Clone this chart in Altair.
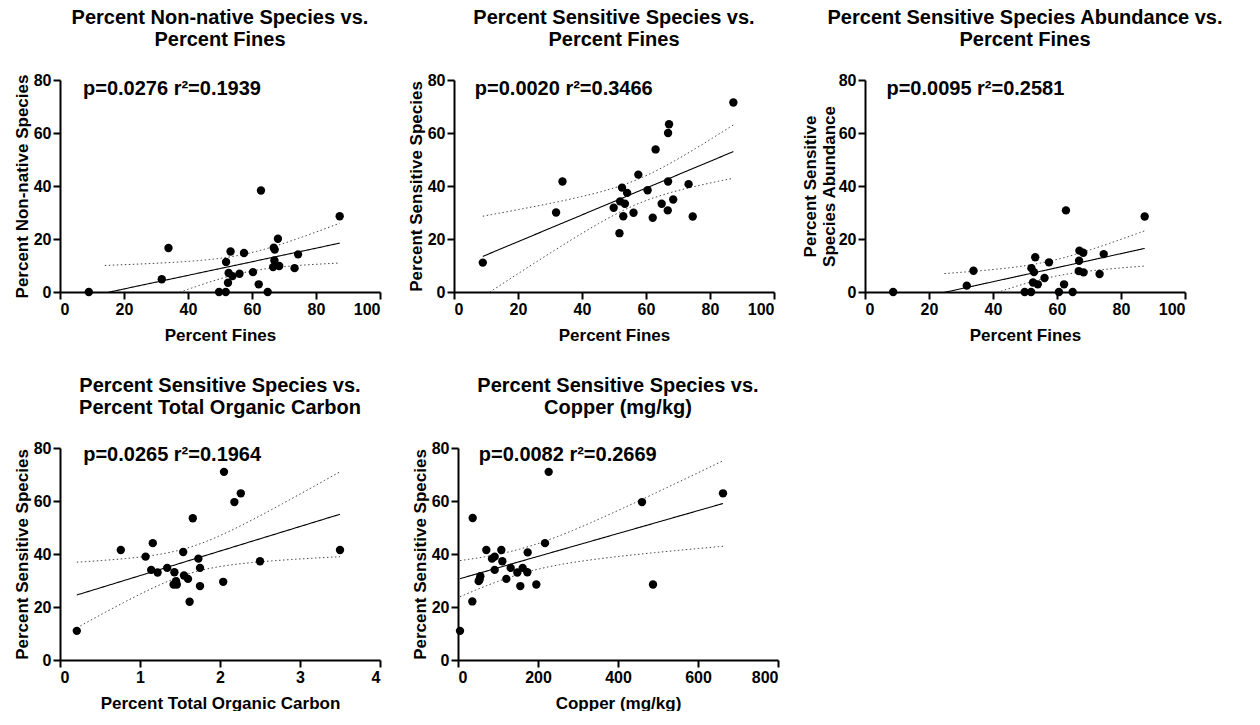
import altair as alt
import numpy as np
import pandas as pd

FONT = "Liberation Sans"

# ---------------- data ----------------
# Panel 1: Percent Non-native Species vs. Percent Fines
p1_fines = [9.0, 31.8, 33.9, 49.7, 51.8, 51.9, 53.3, 52.7, 52.5, 53.9, 56.1, 57.5, 60.3,
            62.1, 62.8, 64.9, 66.8, 67.1, 67.0, 66.6, 68.1, 68.5, 73.3, 74.4, 87.4]
p1_nonnative = [0.0, 4.8, 16.6, 0.0, 0.0, 11.3, 15.3, 7.2, 3.5, 6.0, 6.9, 14.7, 7.5,
                2.9, 38.3, 0.0, 16.7, 16.0, 11.9, 9.4, 20.1, 9.8, 9.0, 14.2, 28.6]

# Panel 2: Percent Sensitive Species vs. Percent Fines
p2_fines = [9.0, 31.9, 33.9, 49.9, 52.5, 51.9, 51.7, 52.9, 53.4, 54.1, 56.1, 57.6, 60.5,
            62.1, 63.0, 64.9, 67.2, 66.9, 66.9, 66.8, 68.5, 73.3, 74.6, 87.3]
p2_sensitive = [11.1, 30.0, 41.7, 31.8, 39.4, 34.2, 22.2, 28.6, 33.3, 37.4, 29.9, 44.3, 38.4,
                28.0, 53.8, 33.3, 63.3, 60.0, 41.7, 30.8, 34.9, 40.7, 28.5, 71.5]

# Panel 3: Percent Sensitive Species Abundance vs. Percent Fines
p3_fines = [8.8, 31.8, 33.9, 49.9, 51.9, 52.0, 52.5, 52.8, 53.2, 54.0, 56.1, 57.5, 60.6,
            62.2, 62.8, 64.9, 66.9, 67.0, 66.8, 68.2, 68.3, 73.3, 74.6, 87.4]
p3_abundance = [0.0, 2.4, 8.0, 0.0, 0.0, 9.0, 3.6, 7.5, 13.1, 2.9, 5.3, 11.2, 0.0,
                2.9, 30.8, 0.0, 11.8, 15.6, 7.9, 14.8, 7.4, 6.8, 14.3, 28.5]

# Panel 4: Percent Sensitive Species vs. Percent Total Organic Carbon
p4_toc = [0.21, 0.76, 1.07, 1.16, 1.14, 1.22, 1.34, 1.43, 1.42, 1.45, 1.46, 1.54, 1.55,
          1.60, 1.62, 1.66, 1.73, 1.75, 1.75, 2.04, 2.05, 2.18, 2.26, 2.50, 3.50]
p4_sensitive = [11.0, 41.5, 39.0, 44.1, 34.0, 33.0, 34.75, 33.1, 28.5, 29.75, 28.5, 40.75, 31.9,
                30.6, 22.0, 53.5, 38.25, 34.75, 27.9, 29.5, 71.0, 59.6, 62.9, 37.25, 41.5]

# Panel 5: Percent Sensitive Species vs. Copper (mg/kg)
p5_copper = [5, 36.7, 35.8, 51.7, 55.8, 54, 70.8, 85, 91.7, 91.7, 108.3, 110.8, 120.8,
             131.7, 148.3, 155.8, 161.7, 173.3, 174.2, 195.8, 217.5, 226.7, 460, 487.5, 662.5]
p5_sensitive = [11.0, 53.6, 22.1, 29.75, 31.6, 30.4, 41.5, 38.25, 39.0, 34.0, 41.5, 37.25, 30.6,
                34.75, 33.0, 27.9, 34.75, 33.1, 40.6, 28.5, 44.1, 71.0, 59.6, 28.5, 62.9]

titles = [
    ["Percent Non-native Species vs.", "Percent Fines"],
    ["Percent Sensitive Species vs.", "Percent Fines"],
    ["Percent Sensitive Species Abundance vs.", "Percent Fines"],
    ["Percent Sensitive Species vs.", "Percent Total Organic Carbon"],
    ["Percent Sensitive Species vs.", "Copper (mg/kg)"],
]
x_titles = ["Percent Fines", "Percent Fines", "Percent Fines",
            "Percent Total Organic Carbon", "Copper (mg/kg)"]
y_titles = ["Percent Non-native Species", "Percent Sensitive Species",
            ["Percent Sensitive", "Species Abundance"],
            "Percent Sensitive Species", "Percent Sensitive Species"]
stats_text = ["p=0.0276 r\u00b2=0.1939", "p=0.0020 r\u00b2=0.3466", "p=0.0095 r\u00b2=0.2581",
              "p=0.0265 r\u00b2=0.1964", "p=0.0082 r\u00b2=0.2669"]
stats_x = [7.2, 6.5, 6.7, 0.29, 52.0]
stats_y = [76.5, 76.5, 76.5, 77.4, 77.4]
# where the fitted curves start
fit_start = [14.0, 9.0, 24.8, 0.21, 5.0]
x_domains = [[0, 100], [0, 100], [0, 100], [0, 4], [0, 800]]
x_ticks = [[0, 20, 40, 60, 80, 100], [0, 20, 40, 60, 80, 100], [0, 20, 40, 60, 80, 100],
           [0, 1, 2, 3, 4], [0, 200, 400, 600, 800]]
y_ticks = [0, 20, 40, 60, 80]
y_title_pad = [2, 2, 0, 2, 2]

T_CRIT = {22: 2.0739, 23: 2.0687}


def regression(xs, ys, x0):
    x = np.asarray(xs, float)
    y = np.asarray(ys, float)
    n = len(x)
    xbar = x.mean()
    sxx = ((x - xbar) ** 2).sum()
    b = ((x - xbar) * (y - y.mean())).sum() / sxx
    a = y.mean() - b * xbar
    s = np.sqrt(((y - a - b * x) ** 2).sum() / (n - 2))
    g = np.linspace(x0, x.max(), 120)
    fit = a + b * g
    se = s * np.sqrt(1.0 / n + (g - xbar) ** 2 / sxx)
    t = T_CRIT[n - 2]
    fit_df = pd.DataFrame({"x": g, "y": fit})
    ci_df = pd.concat([
        pd.DataFrame({"x": g, "y": fit + t * se, "band": "upper"}),
        pd.DataFrame({"x": g, "y": fit - t * se, "band": "lower"}),
    ])
    return fit_df, ci_df


def panel(i, xs, ys):
    xsc = alt.Scale(domain=x_domains[i], nice=False, zero=False)
    ysc = alt.Scale(domain=[0, 80], nice=False)
    common = dict(grid=False, format="d", labelFontWeight="bold", labelFont=FONT,
                  labelFontSize=16, labelColor="black")
    xax = alt.Axis(values=x_ticks[i], title=x_titles[i], titlePadding=10, **common)
    yax = alt.Axis(values=y_ticks, title=y_titles[i], titlePadding=y_title_pad[i], **common)
    X = alt.X("x:Q", scale=xsc, axis=xax)
    Y = alt.Y("y:Q", scale=ysc, axis=yax)

    fit_df, ci_df = regression(xs, ys, fit_start[i])
    pts = pd.DataFrame({"x": xs, "y": ys})
    ann = pd.DataFrame({"x": [stats_x[i]], "y": [stats_y[i]], "t": [stats_text[i]]})

    line = alt.Chart(fit_df).mark_line(color="black", strokeWidth=1.1, clip=True).encode(x=X, y=Y)
    ci = alt.Chart(ci_df).mark_line(color="#444444", strokeWidth=1, strokeDash=[1.5, 2.5],
                                    clip=True).encode(x=X, y=Y, detail="band:N")
    points = alt.Chart(pts).mark_circle(size=70, color="black", opacity=1).encode(x=X, y=Y)
    text = alt.Chart(ann).mark_text(align="left", baseline="middle", fontSize=20,
                                    fontWeight="bold", font=FONT, color="black").encode(
        x=X, y=Y, text="t:N")
    return alt.layer(ci, line, points, text).properties(
        width=320, height=212,
        title=alt.TitleParams(text=titles[i], fontSize=20, fontWeight="bold", font=FONT,
                              color="black", anchor="middle", frame="group",
                              offset=22, lineHeight=22),
    )


panels = [
    panel(0, p1_fines, p1_nonnative),
    panel(1, p2_fines, p2_sensitive),
    panel(2, p3_fines, p3_abundance),
    panel(3, p4_toc, p4_sensitive),
    panel(4, p5_copper, p5_sensitive),
]

row1 = alt.hconcat(panels[0], panels[1], panels[2], spacing=26)
row2 = alt.hconcat(panels[3], panels[4], spacing=30)

chart = alt.vconcat(row1, row2, spacing=33).properties(
    padding={"left": 13, "top": 8, "right": 2, "bottom": 0}
).configure_view(stroke=None).configure_axis(
    domainColor="black", domainWidth=2, tickColor="black", tickWidth=2, tickSize=7,
    labelFont=FONT, labelFontSize=16, labelFontWeight="bold", labelColor="black",
    labelPadding=2, titleFont=FONT, titleFontSize=17, titleFontWeight="bold",
    titleColor="black",
)

chart.save("out.html", embed_options={"renderer": "svg", "actions": False})
